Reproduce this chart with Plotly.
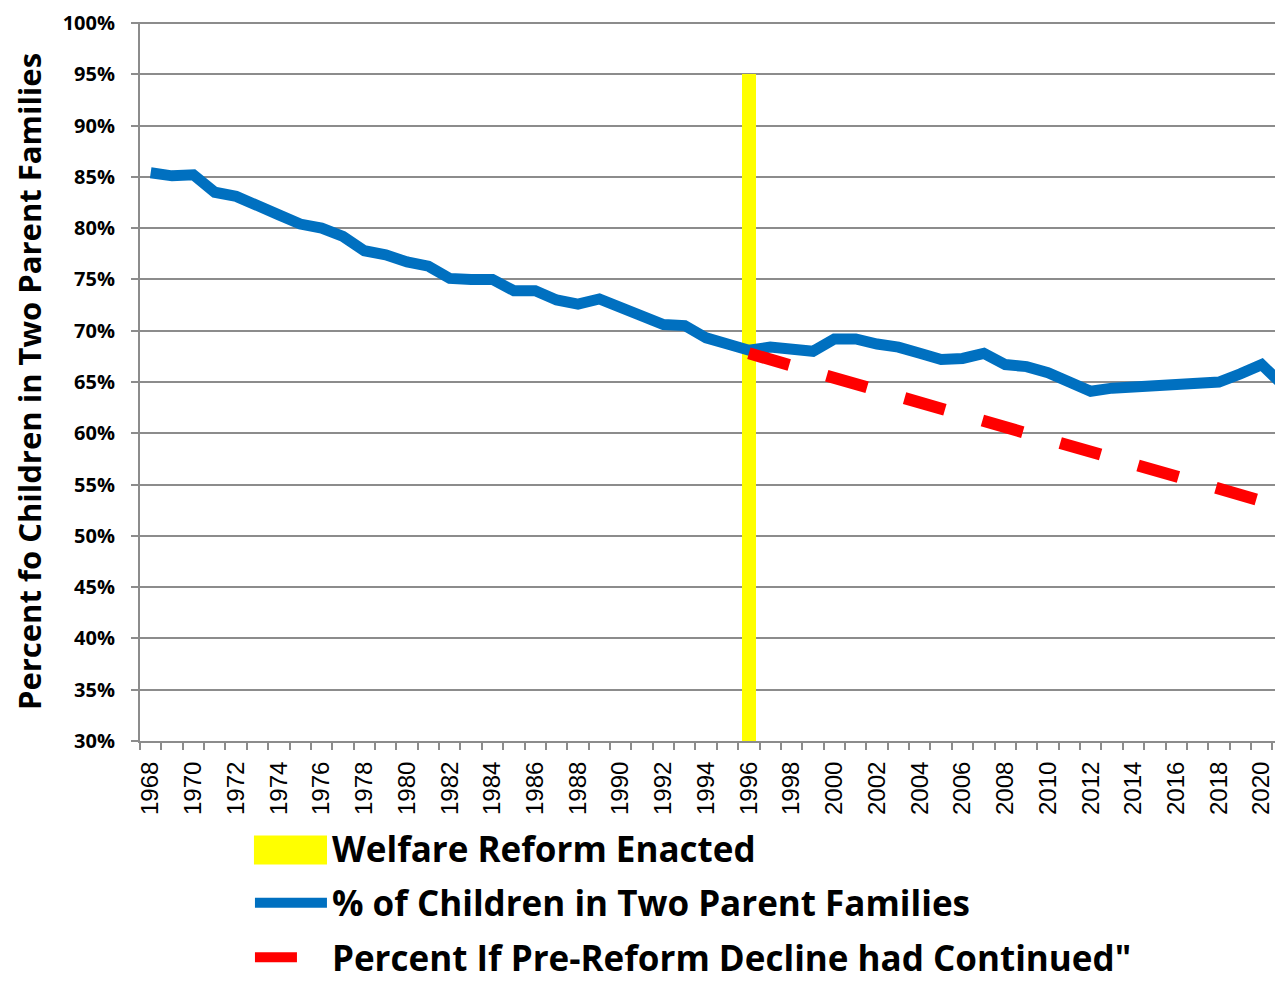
import plotly.graph_objects as go

years = list(range(1968, 2022))
two_parent = [85.4, 85.1, 85.2, 83.5, 83.1, 82.1, 81.3, 80.4, 80.0, 79.2,
              77.8, 77.4, 76.7, 76.3, 75.1, 75.0, 75.0, 73.9, 73.9, 73.0,
              72.6, 73.1, 72.3, 71.6, 70.6, 70.5, 69.3, 68.7, 68.1, 68.4,
              68.2, 68.0, 69.2, 69.2, 68.7, 68.4, 67.8, 67.2, 67.3, 67.8,
              66.7, 66.5, 65.9, 65.1, 64.1, 64.4, 64.5, 64.8, 64.8, 65.0,
              65.0, 65.8, 66.7, 64.7]
trend_years = list(range(1996, 2022))
trend = [67.8, 67.2, 66.6, 66.0, 65.4, 64.8, 64.2, 63.6, 63.0, 62.4,
         61.8, 61.2, 60.6, 60.0, 59.4, 58.8, 58.2, 57.6, 57.0, 56.4,
         55.8, 55.2, 54.6, 54.0, 53.4, 52.8]
reform_year = [1996]
reform_value = [95]
y_ticks = list(range(30, 101, 5))
y_tick_labels = [f"{v}%" for v in y_ticks]
x_ticks = list(range(1968, 2021, 2))

names = ["Welfare Reform Enacted",
         "% of Children in Two Parent Families",
         "Percent If Pre-Reform Decline had Continued\""]

fig = go.Figure()

fig.add_trace(go.Bar(x=reform_year, y=reform_value, width=0.66,
                     marker=dict(color="#FFFF00", line=dict(width=0)),
                     showlegend=False, hoverinfo="skip"))
fig.add_trace(go.Scatter(x=[None], y=[None], mode="lines", name=names[0],
                         line=dict(color="#FFFF00", width=10),
                         legendgroup="a", legendrank=1))
fig.add_trace(go.Scatter(x=years, y=two_parent, mode="lines", name=names[1],
                         line=dict(color="#0070C0", width=11),
                         legendgroup="b", legendrank=2))
fig.add_trace(go.Scatter(x=trend_years, y=trend, mode="lines", name=names[2],
                         line=dict(color="#FF0000", width=12, dash="42px,39px"),
                         legendgroup="c", legendrank=3))

# plot area: x 140..1283, y 22..741 on the page (page has an 8px body margin)
fig.update_layout(
    width=1275, height=975,
    margin=dict(l=132, r=0, t=14, b=242, autoexpand=False),
    plot_bgcolor="white", paper_bgcolor="white",
    font=dict(family="Open Sans", color="black"),
    bargap=0,
    legend=dict(x=0.0962, xanchor="left", y=-0.1085, yanchor="top",
                orientation="v", itemwidth=72, tracegroupgap=6,
                traceorder="grouped",
                font=dict(family="Open Sans", size=35, color="black", weight="bold"),
                bgcolor="rgba(0,0,0,0)"),
    showlegend=True,
    shapes=[dict(type="rect", xref="paper", yref="paper",
                 x0=0.0997, x1=0.1636, y0=-0.1718, y1=-0.1314,
                 fillcolor="#FFFF00", line=dict(width=0), layer="above")],
)

fig.update_yaxes(
    range=[30, 100.1], tickvals=y_ticks, ticktext=y_tick_labels,
    tickfont=dict(family="Open Sans", size=20, color="black", weight="bold"),
    ticklabeloverflow="allow",
    showgrid=True, gridcolor="#8C8C8C", gridwidth=2,
    showline=True, linecolor="#8C8C8C", linewidth=2,
    ticks="outside", ticklen=7, tickcolor="#8C8C8C", tickwidth=2,
    ticklabelstandoff=12,
    zeroline=False,
    title=dict(text="Percent fo Children in Two Parent Families",
               font=dict(family="Open Sans", size=31, color="black", weight="bold"),
               standoff=33),
    automargin=False,
)
fig.update_xaxes(
    range=[1967.5, 2021.0], tickvals=x_ticks, tickangle=-90,
    tickfont=dict(family="Liberation Sans", size=24, color="black"),
    showgrid=False, showline=True, linecolor="#8C8C8C", linewidth=2,
    ticks="", zeroline=False,
    minor=dict(ticks="outside", tick0=1967.5, dtick=1, ticklen=7,
               tickcolor="#8C8C8C", tickwidth=2, showgrid=False),
    ticklabelstandoff=9,
    automargin=False,
)

fig.write_html("out.html")
